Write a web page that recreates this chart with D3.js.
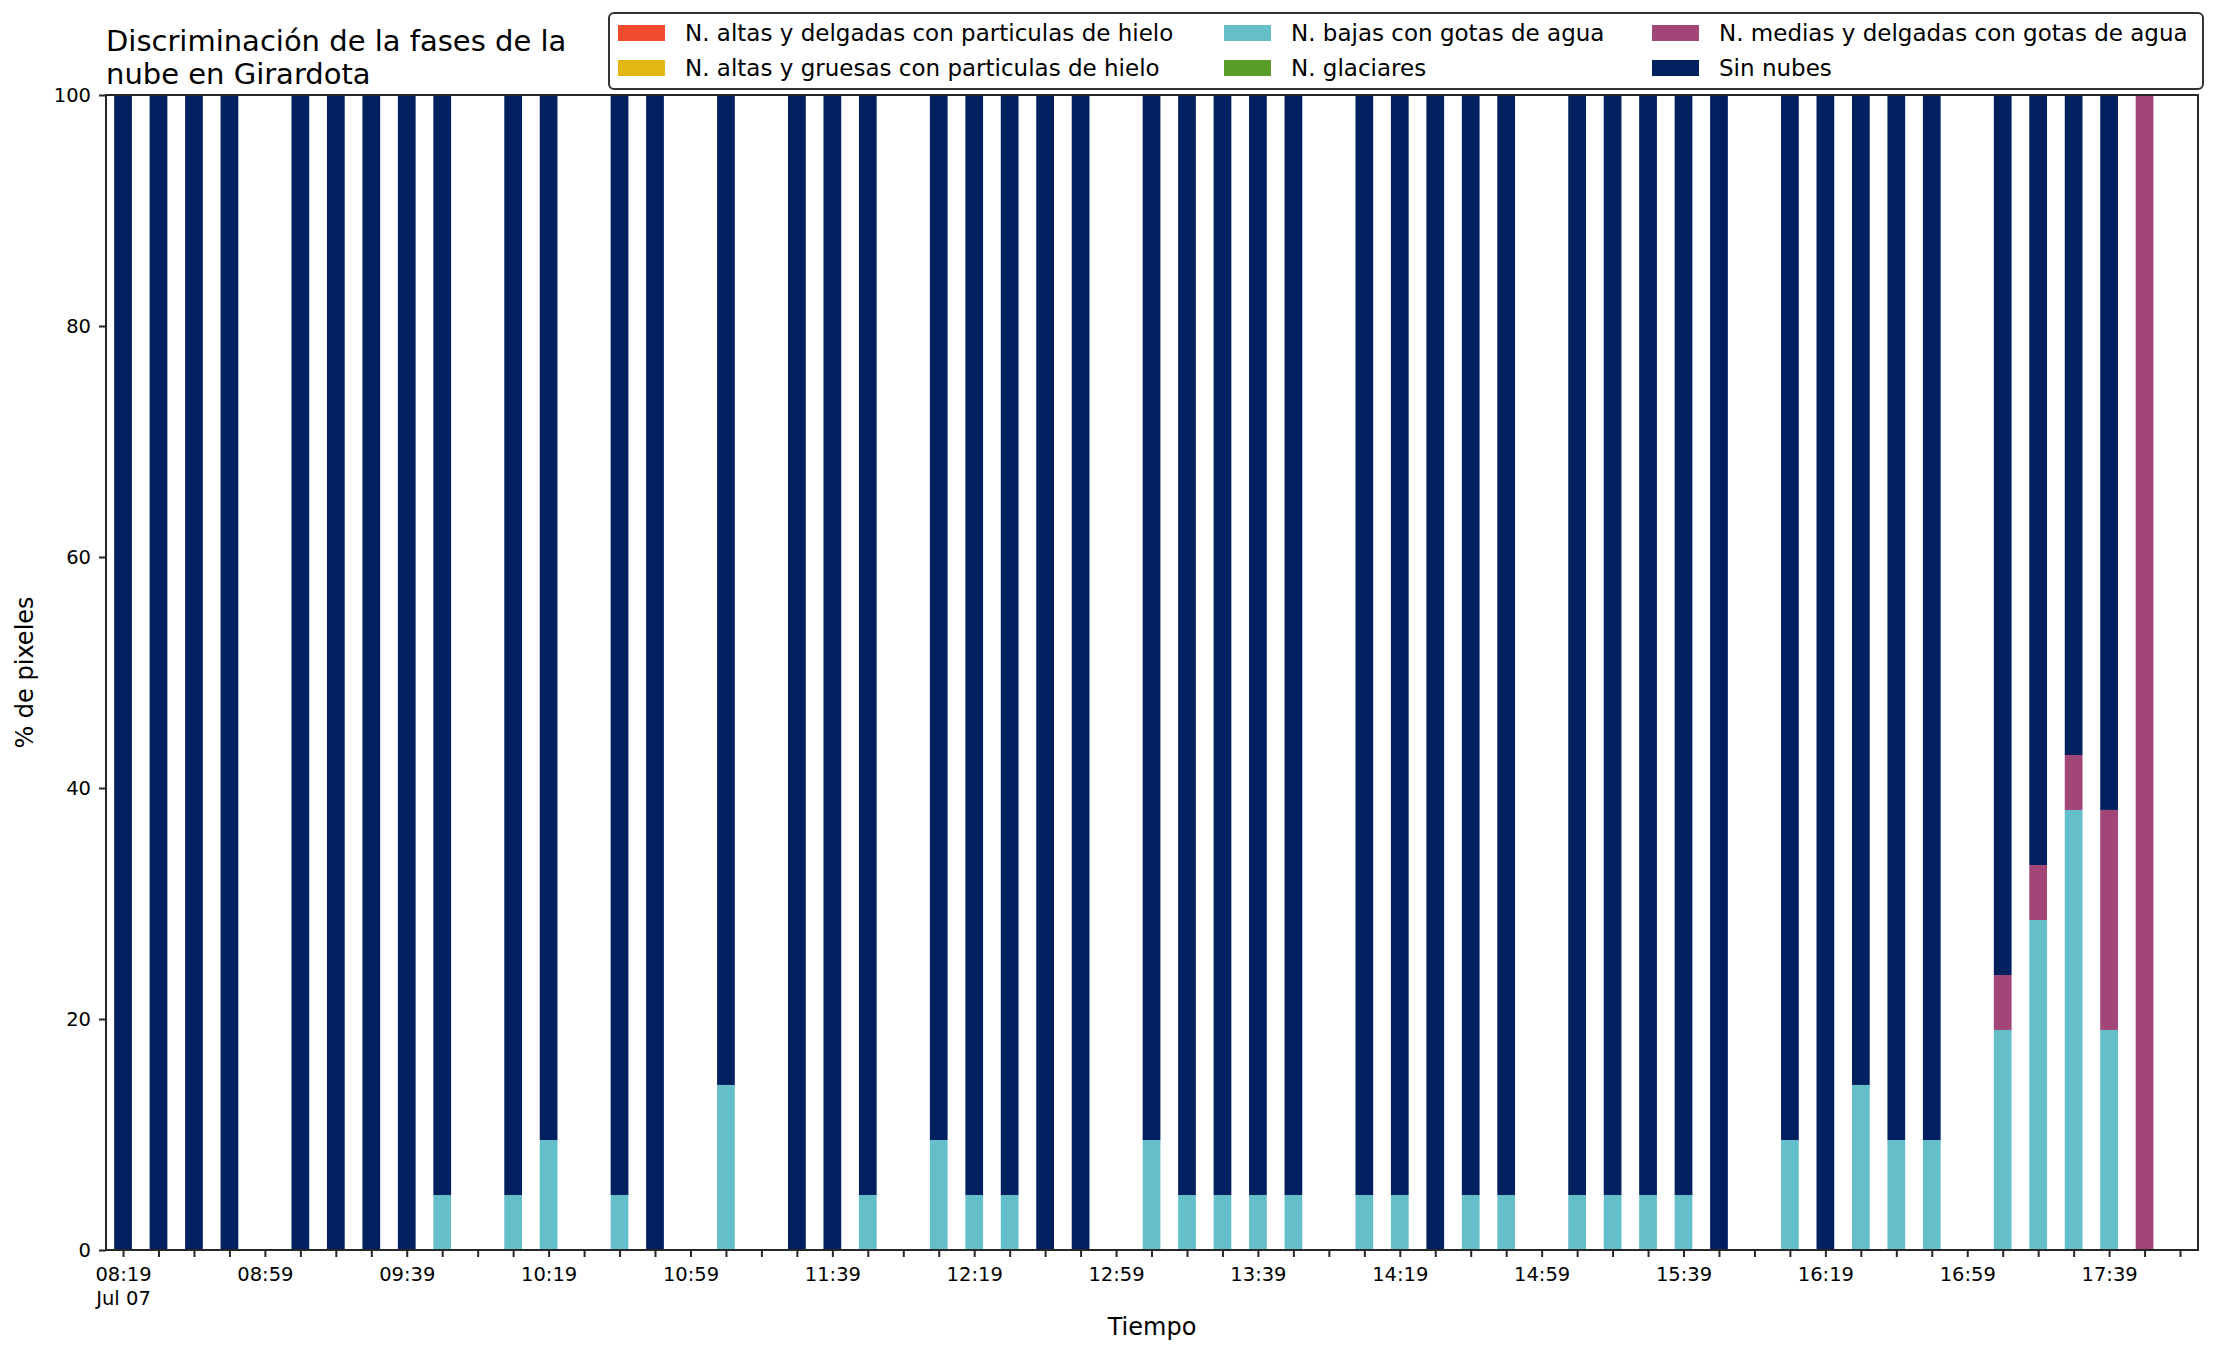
<!DOCTYPE html>
<html>
<head>
<meta charset="utf-8">
<script src="https://cdn.jsdelivr.net/npm/d3@7/dist/d3.min.js"></script>
<style>
  html, body { margin: 0; padding: 0; background: #fff; }
  svg { display: block; font-family: "DejaVu Sans", sans-serif; }
</style>
</head>
<body>
<svg id="chart" width="2216" height="1355"></svg>
<script>
// ---------------- DATA ----------------
const day = "2020-07-07";
const times = ["08:19","08:29","08:39","08:49","09:09","09:19","09:29","09:39","09:49",
  "10:09","10:19","10:39","10:49","11:09","11:29","11:39","11:49",
  "12:09","12:19","12:29","12:39","12:49","13:09","13:19","13:29","13:39","13:49",
  "14:09","14:19","14:29","14:39","14:49","15:09","15:19","15:29","15:39","15:49",
  "16:09","16:19","16:29","16:39","16:49","17:09","17:19","17:29","17:39","17:49"];

const altasDelgadas = times.map(() => 0);
const altasGruesas  = times.map(() => 0);
const bajasAgua = [0,0,0,0,0,0,0,0,4.76,
  4.76,9.52,4.76,0,14.29,0,0,4.76,
  9.52,4.76,4.76,0,0,9.52,4.76,4.76,4.76,4.76,
  4.76,4.76,0,4.76,4.76,4.76,4.76,4.76,4.76,0,
  9.52,0,14.29,9.52,9.52,19.05,28.57,38.10,19.05,0];
const glaciares = times.map(() => 0);
const mediasAgua = [0,0,0,0,0,0,0,0,0,
  0,0,0,0,0,0,0,0,
  0,0,0,0,0,0,0,0,0,0,
  0,0,0,0,0,0,0,0,0,0,
  0,0,0,0,0,4.76,4.76,4.76,19.05,100];
const sinNubes = [100,100,100,100,100,100,100,100,95.24,
  95.24,90.48,95.24,100,85.71,100,100,95.24,
  90.48,95.24,95.24,100,100,90.48,95.24,95.24,95.24,95.24,
  95.24,95.24,100,95.24,95.24,95.24,95.24,95.24,95.24,100,
  90.48,100,85.71,90.48,90.48,76.19,66.67,57.14,61.90,0];

const seriesNames = ["N. altas y delgadas con particulas de hielo",
  "N. altas y gruesas con particulas de hielo",
  "N. bajas con gotas de agua",
  "N. glaciares",
  "N. medias y delgadas con gotas de agua",
  "Sin nubes"];
const seriesColors = ["#f04b2d","#e3b714","#65bfca","#5a9e28","#a24577","#00205f"];
const seriesValues = [altasDelgadas, altasGruesas, bajasAgua, glaciares, mediasAgua, sinNubes];

const yTicks = [0, 20, 40, 60, 80, 100];
const xTickFirst = "08:19", xTickLast = "17:59", xTickStepMin = 10;
const xLabelTicks = ["08:19","08:59","09:39","10:19","10:59","11:39","12:19","12:59",
  "13:39","14:19","14:59","15:39","16:19","16:59","17:39"];
const xFirstSubLabel = "Jul 07";
const xDomain = ["08:14:12", "18:04:04"];

const titleLines = ["Discriminación de la fases de la", "nube en Girardota"];
const xTitle = "Tiempo";
const yTitle = "% de pixeles";

// ---------------- LAYOUT ----------------
const W = 2216, H = 1355;
const L = 106, R = 2198, T = 95, B = 1250;
const parse = d3.timeParse("%Y-%m-%d %H:%M:%S");
const tp = s => parse(day + " " + (s.length === 5 ? s + ":00" : s));
const fmt = d3.timeFormat("%H:%M");

const svg = d3.select("#chart");
const x = d3.scaleTime().domain(xDomain.map(tp)).range([L, R]);
const y = d3.scaleLinear().domain([0, 100]).range([B, T]);

// stacked data
const rows = times.map((t, i) => {
  const r = { time: tp(t) };
  seriesNames.forEach((n, k) => r[n] = seriesValues[k][i]);
  return r;
});
const stack = d3.stack().keys(seriesNames)(rows);
const barHalf = 2.5 * 60 * 1000; // 5 minute wide bars

const gBars = svg.append("g");
stack.forEach((layer, k) => {
  gBars.append("g").attr("fill", seriesColors[k])
    .selectAll("rect").data(layer.filter(d => d[1] - d[0] > 0)).join("rect")
    .attr("x", d => x(new Date(+d.data.time - barHalf)))
    .attr("width", d => x(new Date(+d.data.time + barHalf)) - x(new Date(+d.data.time - barHalf)))
    .attr("y", d => y(d[1]))
    .attr("height", d => y(d[0]) - y(d[1]));
});

// axes
const axisColor = "#262626";
const tickVals = d3.range(+tp(xTickFirst), +tp(xTickLast) + 1, xTickStepMin * 60000).map(v => new Date(v));
const xAxis = d3.axisBottom(x).tickValues(tickVals).tickSize(7).tickPadding(6)
  .tickFormat(d => xLabelTicks.includes(fmt(d)) ? fmt(d) : "");
const gx = svg.append("g").attr("transform", `translate(0,${B})`).call(xAxis);
gx.select(".domain").remove();
gx.selectAll(".tick line").attr("stroke", axisColor).attr("stroke-width", 2);
gx.selectAll(".tick text").attr("fill", "#000").attr("font-size", 19.5)
  .attr("font-family", "DejaVu Sans").attr("dy", null).attr("y", 31)
  .each(function(d) {
    if (fmt(d) === xTickFirst) {
      d3.select(this).append("tspan").attr("x", 0).attr("dy", 23.5).text(xFirstSubLabel);
    }
  });

const yAxis = d3.axisLeft(y).tickValues(yTicks).tickSize(7).tickPadding(8);
const gy = svg.append("g").attr("transform", `translate(${L},0)`).call(yAxis);
gy.select(".domain").remove();
gy.selectAll(".tick line").attr("stroke", axisColor).attr("stroke-width", 2);
gy.selectAll(".tick text").attr("fill", "#000").attr("font-size", 19.5)
  .attr("font-family", "DejaVu Sans");

// spines
svg.append("rect").attr("x", L).attr("y", T).attr("width", R - L).attr("height", B - T)
  .attr("fill", "none").attr("stroke", axisColor).attr("stroke-width", 2);

// titles
const title = svg.append("text").attr("x", L).attr("font-size", 29).attr("fill", "#000");
titleLines.forEach((t, i) => title.append("tspan").attr("x", L).attr("y", 51 + i * 33).text(t));
svg.append("text").attr("x", (L + R) / 2).attr("y", 1335).attr("text-anchor", "middle")
  .attr("font-size", 24).attr("fill", "#000").text(xTitle);
svg.append("text").attr("transform", `translate(33,${(T + B) / 2}) rotate(-90)`)
  .attr("text-anchor", "middle").attr("font-size", 24).attr("fill", "#000").text(yTitle);

// legend
const lg = svg.append("g");
lg.append("rect").attr("x", 609).attr("y", 13).attr("width", 1594).attr("height", 76)
  .attr("rx", 5).attr("fill", "#fff").attr("stroke", "#333").attr("stroke-width", 2);
const colX = [618, 1224, 1652], rowY = [33, 68];
seriesNames.forEach((n, k) => {
  const c = Math.floor(k / 2), r = k % 2;
  lg.append("rect").attr("x", colX[c]).attr("y", rowY[r] - 8).attr("width", 47).attr("height", 16)
    .attr("fill", seriesColors[k]);
  lg.append("text").attr("x", colX[c] + 67).attr("y", rowY[r] + 8).attr("font-size", 23)
    .attr("fill", "#000").text(n);
});
</script>
</body>
</html>
